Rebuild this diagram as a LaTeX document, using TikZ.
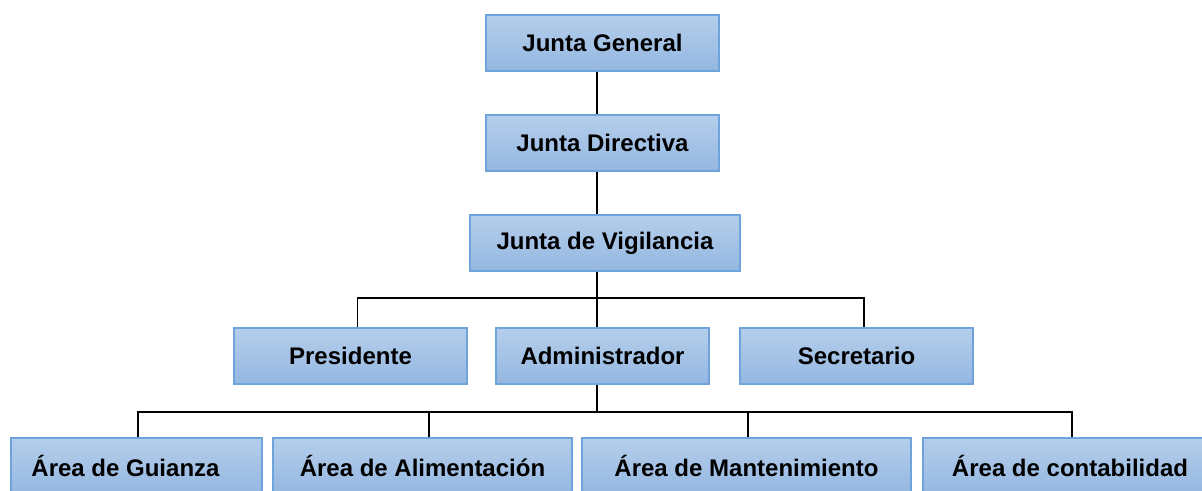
\documentclass[tikz,border=0pt]{standalone}
\usepackage{fontspec}
\setmainfont{Liberation Sans}
\usepackage{tikz}
\usetikzlibrary{positioning,shadings}

\definecolor{boxtop}{HTML}{B5CEEB}
\definecolor{boxbot}{HTML}{94B7E1}
\definecolor{boxline}{HTML}{6FA3DC}

\begin{document}
\begin{tikzpicture}[x=0.5pt,y=-0.5pt]
	\tikzset{orgbox/.style={draw=boxline,line width=0.75pt,top color=boxtop,bottom color=boxbot,
		inner sep=0pt,minimum height=28pt,font=\bfseries\fontsize{12}{14}\selectfont}}
	\tikzstyle{link}=[draw,line width=0.6pt]
	\clip (0,0) rectangle (1202,491);

	%% Top of the chart
	\node[orgbox,minimum width=116.5pt] (jg) at (602.5,43) {Junta General};
	\node[orgbox,minimum width=116.5pt] (jd) at (602.5,143) {Junta Directiva};
	\node[orgbox,minimum width=135pt] (jv) at (605,243) {Junta de Vigilancia};

	%% Second level
	\node[orgbox,minimum width=116.5pt] (pres) at (350.5,356) {Presidente};
	\node[orgbox,minimum width=106.5pt] (adm) at (602.5,356) {Administrador};
	\node[orgbox,minimum width=116.5pt] (sec) at (856.5,356) {Secretario};

	%% Areas
	\node[orgbox,minimum width=125.5pt] (gui) at (136.5,466) {\hspace*{-11pt}\'Area de Guianza};
	\node[orgbox,minimum width=149.5pt] (ali) at (422.5,466) {\'Area de Alimentaci\'on};
	\node[orgbox,minimum width=164.5pt] (man) at (746.5,466) {\'Area de Mantenimiento};
	\node[orgbox,minimum width=147pt] (con) at (1070,466) {\'Area de contabilidad};

	%% Connectors
	\coordinate (stem) at (597,0);
	\coordinate (bus1) at (0,298);
	\coordinate (bus2) at (0,412);
	\path[link] (jg.south -| stem) -- (jd.north -| stem);
	\path[link] (jd.south -| stem) -- (jv.north -| stem);
	\path[link] (jv.south -| stem) -- (adm.north -| stem);
	\path[link] ([xshift=3.5pt]pres.north) |- (bus1 -| stem) -| ([xshift=3.75pt]sec.north);
	\path[link] (adm.south -| stem) -- (bus2 -| stem);
	\path[link] ([xshift=0.75pt]gui.north) |- (bus2 -| stem);
	\path[link] (bus2 -| stem) -| ([xshift=1pt]con.north);
	\path[link] ([xshift=3.25pt]ali.north) |- (bus2 -| stem);
	\path[link] ([xshift=0.75pt]man.north) |- (bus2 -| stem);
\end{tikzpicture}
\end{document}
